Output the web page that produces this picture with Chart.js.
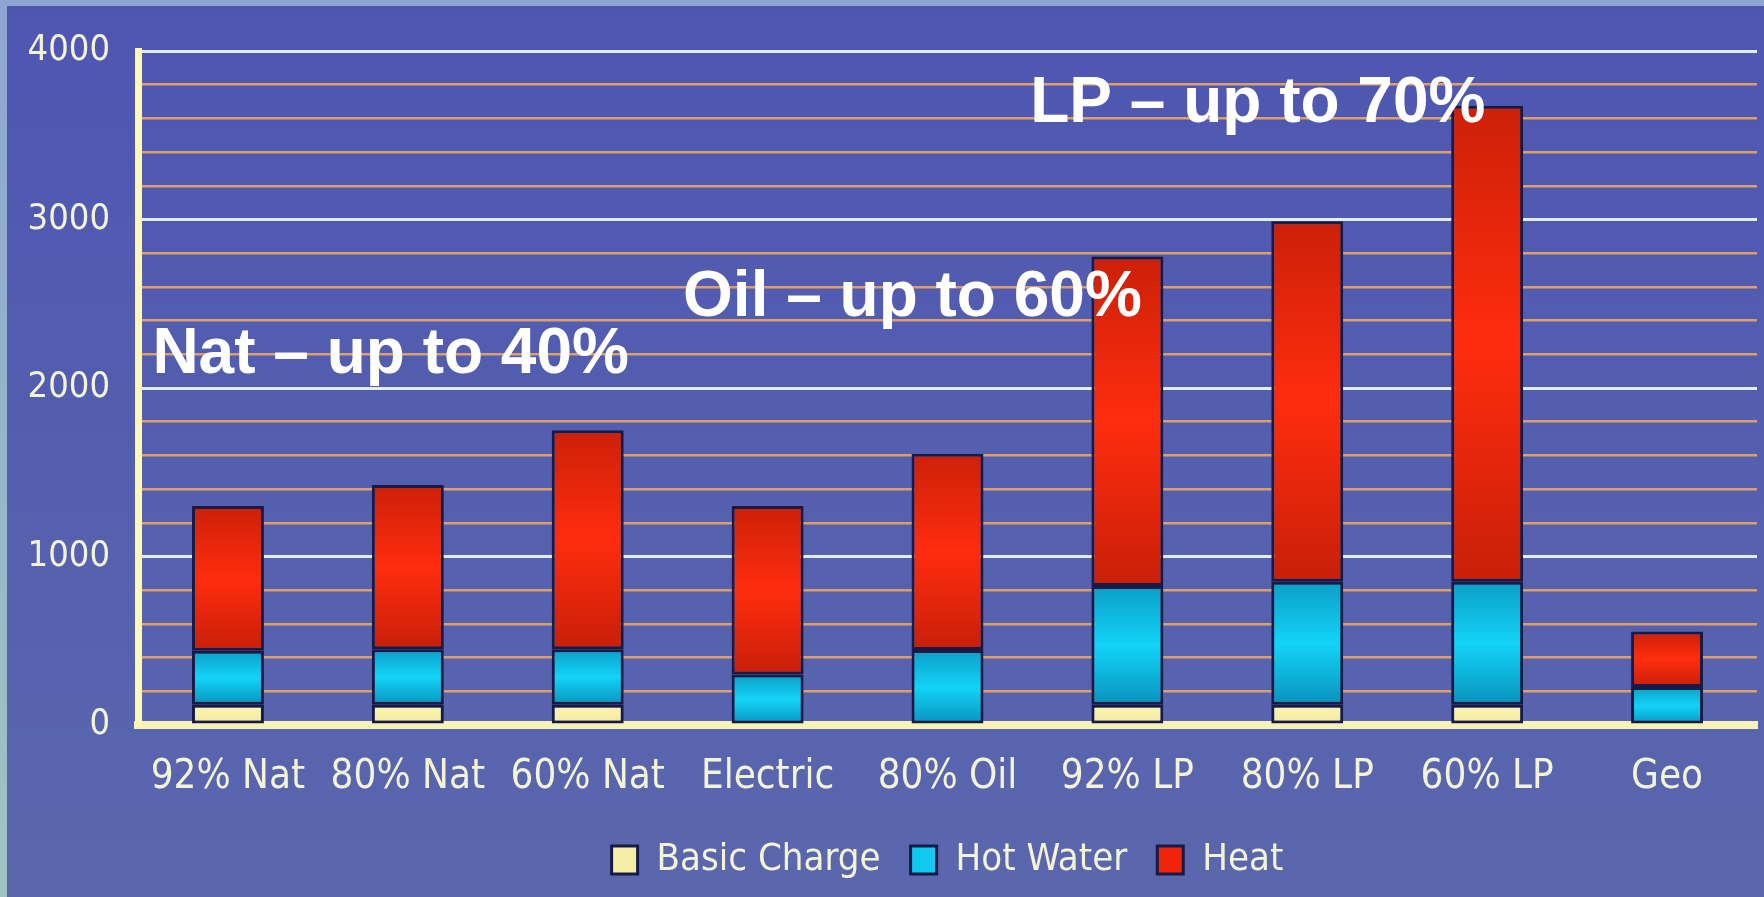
<!DOCTYPE html>
<html>
<head>
<meta charset="utf-8">
<script src="https://cdn.jsdelivr.net/npm/chart.js@4/dist/chart.umd.min.js"></script>
<style>
  html, body { margin: 0; padding: 0; background: #5460b0; }
  canvas { display: block; }
</style>
</head>
<body>
<canvas id="costChart" width="1764" height="897"></canvas>
<script>
// Annual heating cost by fuel / furnace efficiency
const categories = ['92% Nat', '80% Nat', '60% Nat', 'Electric', '80% Oil', '92% LP', '80% LP', '60% LP', 'Geo'];
const basicCharge = [120, 120, 120, null, null, 120, 120, 120, null];
const hotWater    = [320, 330, 330, 300, 445, 705, 730, 730, 225];
const heat        = [860, 975, 1300, 1000, 1165, 1955, 2140, 2825, 330];
const seriesNames = ['Basic Charge', 'Hot Water', 'Heat'];

// Value axis
const yMax = 4000;
const minorStep = 200;
const majorStep = 1000;

// Savings notes: text, left edge (in category units), baseline value
const noteText  = ['Nat \u2013 up to 40%', 'Oil \u2013 up to 60%', 'LP \u2013 up to 70%'];
const noteAt    = [-0.42, 2.53, 4.46];
const noteValue = [2090, 2425, 3580];

// Colours
const basicFill   = ['#fbf3b4', '#f8f0a8', '#f2e89c'];
const waterFill   = ['#0a9ec6', '#12d4f8', '#0892bc'];
const heatFill    = ['#cc2008', '#ff2c0e', '#c81f08'];
const legendFill  = ['#f6eea6', '#10c8f0', '#f0240a'];
const outline     = '#161a44';
const textColor   = '#f3f3d6';

Chart.defaults.font.family = "'DejaVu Sans Condensed', 'DejaVu Sans', sans-serif";

// Vertical shading for each stacked segment, computed from the value scale
function segmentFill(stops) {
  return (ctx) => {
    const chart = ctx.chart;
    const y = chart.scales && chart.scales.y;
    if (ctx.type !== 'data' || !y || ctx.raw == null) return stops[1];
    let start = 0;
    for (let k = 0; k < ctx.datasetIndex; k++) {
      start += chart.data.datasets[k].data[ctx.dataIndex] || 0;
    }
    const yBase = y.getPixelForValue(start);
    const yTop = y.getPixelForValue(start + ctx.raw);
    if (!isFinite(yBase) || !isFinite(yTop) || yBase === yTop) return stops[1];
    const g = chart.ctx.createLinearGradient(0, yTop, 0, yBase);
    g.addColorStop(0, stops[0]);
    g.addColorStop(0.5, stops[1]);
    g.addColorStop(1, stops[2]);
    return g;
  };
}

// Slide background with light frame on top and left
const backdrop = {
  id: 'backdrop',
  beforeDraw(chart) {
    const c = chart.ctx, w = chart.width, h = chart.height;
    c.save();
    const g = c.createLinearGradient(0, 0, 0, h);
    g.addColorStop(0, '#4e56b2');
    g.addColorStop(1, '#5a67ad');
    c.fillStyle = g;
    c.fillRect(0, 0, w, h);
    c.fillStyle = '#8ea5d2';
    c.fillRect(0, 0, w, 6);
    const lg = c.createLinearGradient(0, 0, 0, h);
    lg.addColorStop(0, '#8ea5d2');
    lg.addColorStop(1, '#a0c4c2');
    c.fillStyle = lg;
    c.fillRect(0, 0, 7, h);
    c.restore();
  }
};

// Bold savings captions written over the plot
const notes = {
  id: 'notes',
  afterDatasetsDraw(chart) {
    const { ctx, scales: { x, y } } = chart;
    const step = x.getPixelForValue(1) - x.getPixelForValue(0);
    ctx.save();
    ctx.font = "bold 64px 'Liberation Sans', Arial, sans-serif";
    ctx.fillStyle = '#ffffff';
    ctx.textAlign = 'left';
    ctx.textBaseline = 'alphabetic';
    noteText.forEach((t, i) => {
      ctx.fillText(t, x.getPixelForValue(0) + noteAt[i] * step, y.getPixelForValue(noteValue[i]));
    });
    ctx.restore();
  }
};

const barCommon = {
  borderColor: outline,
  borderWidth: 3,
  borderSkipped: false,
  barPercentage: 0.4,
  categoryPercentage: 1.0
};

new Chart(document.getElementById('costChart'), {
  type: 'bar',
  data: {
    labels: categories,
    datasets: [
      Object.assign({ label: seriesNames[0], data: basicCharge, backgroundColor: segmentFill(basicFill) }, barCommon),
      Object.assign({ label: seriesNames[1], data: hotWater, backgroundColor: segmentFill(waterFill) }, barCommon),
      Object.assign({ label: seriesNames[2], data: heat, backgroundColor: segmentFill(heatFill) }, barCommon)
    ]
  },
  options: {
    responsive: false,
    animation: false,
    layout: { padding: { top: 51, right: 7, bottom: 8, left: 0 } },
    plugins: {
      legend: {
        position: 'bottom',
        fullSize: false,
        labels: {
          color: textColor,
          font: { size: 38 },
          boxWidth: 26,
          boxHeight: 28,
          padding: 30,
          generateLabels: () => seriesNames.map((name, i) => ({
            text: name,
            fillStyle: legendFill[i],
            strokeStyle: outline,
            lineWidth: 3,
            fontColor: textColor,
            hidden: false,
            datasetIndex: i
          }))
        }
      },
      tooltip: { enabled: false }
    },
    scales: {
      x: {
        stacked: true,
        z: 1,
        grid: { display: false, drawTicks: false },
        border: { color: '#f7f3b6', width: 8 },
        ticks: { color: textColor, font: { size: 40 }, padding: 29, autoSkip: false, maxRotation: 0 },
        afterFit(scale) { scale.height = 86; }
      },
      y: {
        stacked: true,
        min: 0,
        max: yMax,
        grid: {
          drawTicks: false,
          color: (c) => (c.tick && c.tick.value % majorStep === 0) ? '#e4ece6' : '#dc9f6c',
          lineWidth: (c) => (c.tick && c.tick.value % majorStep === 0) ? 3 : 2.5
        },
        border: { color: '#fff8b6', width: 7 },
        ticks: {
          stepSize: minorStep,
          autoSkip: false,
          padding: 28,
          color: textColor,
          font: { size: 36 },
          callback: (v) => (v % majorStep === 0 ? String(v) : '')
        },
        afterFit(scale) { scale.width = 138; }
      }
    }
  },
  plugins: [backdrop, notes]
});
</script>
</body>
</html>
